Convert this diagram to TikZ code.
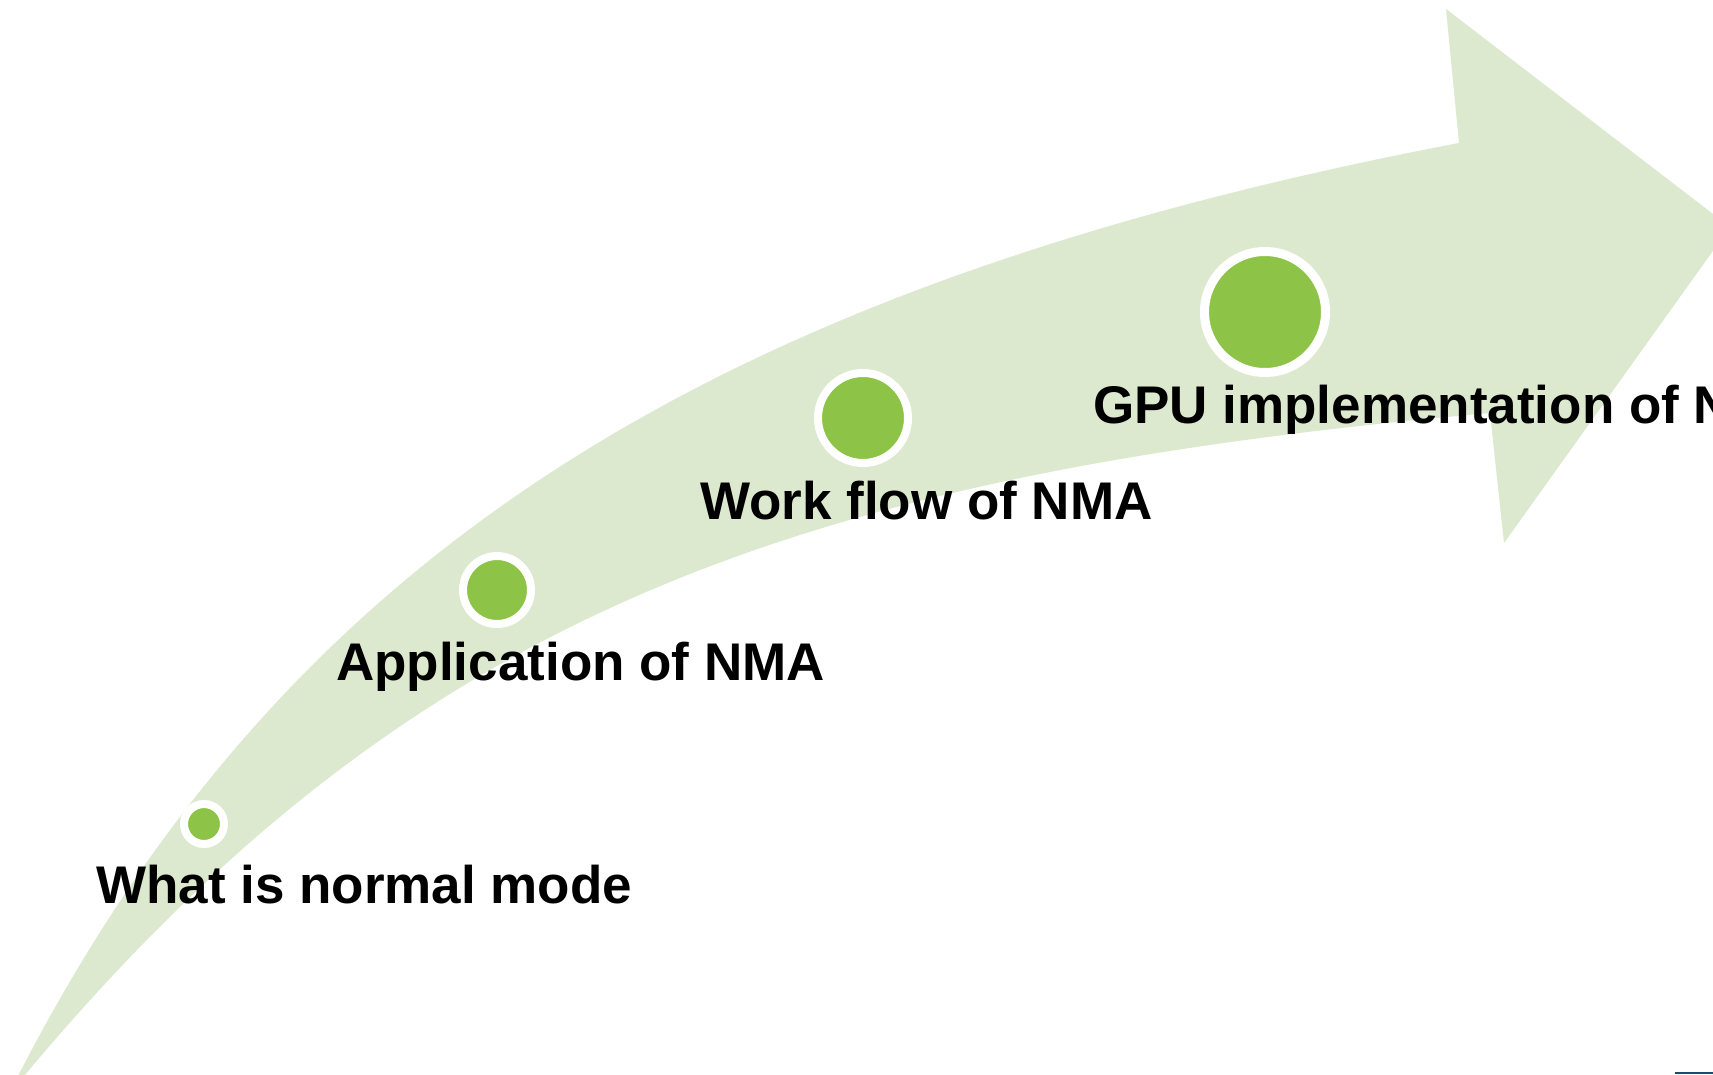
\documentclass[tikz,border=0pt]{standalone}
\usepackage{fontspec}
\setmainfont{Liberation Sans}
\definecolor{bandgreen}{HTML}{DCE9CF}
\definecolor{dotgreen}{HTML}{8DC447}
\definecolor{edgeblue}{HTML}{1B4A6B}
\tikzset{
  dotring/.style={circle, fill=dotgreen, draw=white, inner sep=0pt},
  steplabel/.style={anchor=base west, inner sep=0pt, font=\fontsize{53}{60}\selectfont\bfseries, text=black}
}
\begin{document}
\begin{tikzpicture}[x=1pt, y=-1pt]
\useasboundingbox (0,0) rectangle (1713,1074);
\clip (0,0) rectangle (1713,1074);
\fill[white] (0,0) rectangle (1713,1074);
% curved arrow band
\fill[bandgreen]
  (18,1076) .. controls (280,567) and (693,289) .. (1459,143)
  -- (1446,9) -- (1730,227) -- (1504,543) -- (1490,413)
  .. controls (793,475) and (410,614) .. (24,1076) -- cycle;
% small edge fragment
\fill[edgeblue] (1675,1072) rectangle (1713,1074);
% milestone dots
\node[dotring, line width=8pt, minimum size=40pt] (c1) at (204,824) {};
\node[dotring, line width=8pt, minimum size=68pt] (c2) at (497,590) {};
\node[dotring, line width=8pt, minimum size=90pt] (c3) at (863,418) {};
\node[dotring, line width=9pt, minimum size=121pt] (c4) at (1265,312) {};
% labels
\node[steplabel] (t1) at (96,903) {What is normal mode};
\node[steplabel] (t2) at (336,680) {Application of NMA};
\node[steplabel] (t3) at (700,519) {Work flow of NMA};
\node[steplabel] (t4) at (1093,423) {GPU implementation of NMA};
\end{tikzpicture}
\end{document}
